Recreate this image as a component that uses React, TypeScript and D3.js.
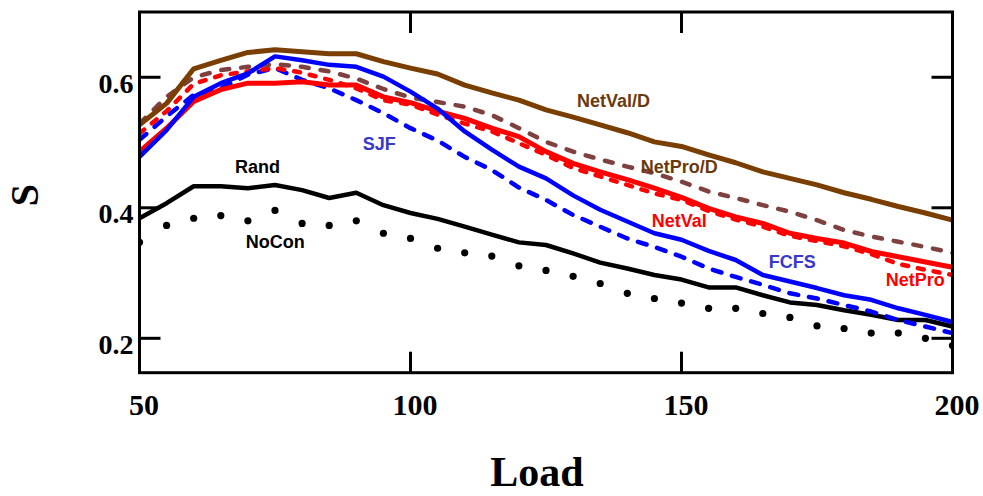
import React from "react";
import * as d3 from "d3";

const loads = d3.range(50, 201, 5);

const netValD = [0.527, 0.560, 0.613, 0.626, 0.638, 0.642, 0.639, 0.636, 0.636, 0.624, 0.614, 0.605, 0.588, 0.576, 0.565, 0.550, 0.539, 0.527, 0.515, 0.501, 0.494, 0.481, 0.469, 0.455, 0.445, 0.435, 0.423, 0.413, 0.402, 0.392, 0.381];
const netProD = [0.529, 0.570, 0.600, 0.611, 0.616, 0.620, 0.616, 0.609, 0.598, 0.582, 0.569, 0.562, 0.555, 0.542, 0.522, 0.501, 0.486, 0.474, 0.463, 0.453, 0.440, 0.425, 0.415, 0.404, 0.394, 0.381, 0.366, 0.356, 0.348, 0.340, 0.331];
const netVal = [0.486, 0.522, 0.563, 0.581, 0.591, 0.591, 0.593, 0.588, 0.588, 0.570, 0.561, 0.548, 0.537, 0.522, 0.509, 0.486, 0.468, 0.455, 0.443, 0.430, 0.416, 0.399, 0.386, 0.376, 0.361, 0.353, 0.346, 0.333, 0.325, 0.317, 0.309];
const netPro = [0.514, 0.548, 0.590, 0.603, 0.609, 0.614, 0.607, 0.596, 0.583, 0.565, 0.558, 0.543, 0.529, 0.517, 0.499, 0.481, 0.461, 0.448, 0.435, 0.422, 0.412, 0.395, 0.382, 0.371, 0.357, 0.349, 0.341, 0.329, 0.314, 0.305, 0.297];
const fcfs = [0.478, 0.519, 0.570, 0.591, 0.606, 0.632, 0.626, 0.619, 0.616, 0.601, 0.578, 0.552, 0.517, 0.489, 0.463, 0.445, 0.419, 0.397, 0.379, 0.361, 0.351, 0.334, 0.320, 0.297, 0.287, 0.277, 0.266, 0.259, 0.246, 0.236, 0.225];
const sjf = [0.504, 0.540, 0.573, 0.583, 0.604, 0.614, 0.596, 0.583, 0.565, 0.545, 0.522, 0.503, 0.478, 0.458, 0.431, 0.412, 0.389, 0.371, 0.353, 0.340, 0.325, 0.307, 0.294, 0.282, 0.269, 0.261, 0.251, 0.241, 0.228, 0.218, 0.208];
const rand = [0.384, 0.407, 0.433, 0.433, 0.430, 0.435, 0.427, 0.415, 0.423, 0.404, 0.392, 0.383, 0.371, 0.359, 0.347, 0.343, 0.330, 0.316, 0.307, 0.297, 0.290, 0.278, 0.278, 0.266, 0.255, 0.251, 0.243, 0.236, 0.228, 0.228, 0.218];
const noCon = [0.347, 0.373, 0.384, 0.388, 0.380, 0.396, 0.376, 0.373, 0.380, 0.361, 0.353, 0.338, 0.331, 0.326, 0.311, 0.304, 0.295, 0.284, 0.269, 0.261, 0.254, 0.246, 0.246, 0.238, 0.232, 0.219, 0.215, 0.208, 0.208, 0.200, 0.189];

const xTicks = [50, 100, 150, 200];
const yTicks = [0.2, 0.4, 0.6];
const innerXTicks = [100, 150];

type Series = { name: string; values: number[]; color: string; width: number; dash?: string; dotted?: boolean };

const series: Series[] = [
  { name: "NoCon", values: noCon, color: "#000000", width: 0, dotted: true },
  { name: "Rand", values: rand, color: "#000000", width: 4.5 },
  { name: "NetPro/D", values: netProD, color: "#7f4040", width: 4.5, dash: "8,12" },
  { name: "SJF", values: sjf, color: "#0000ff", width: 4.5, dash: "9,11" },
  { name: "NetPro", values: netPro, color: "#ff0000", width: 4.5, dash: "6,10" },
  { name: "NetVal", values: netVal, color: "#ff0000", width: 5 },
  { name: "FCFS", values: fcfs, color: "#0000ff", width: 4.5 },
  { name: "NetVal/D", values: netValD, color: "#7a3e00", width: 5 },
];

// label anchor positions in data units (load, S)
const labels = [
  { text: "NetVal/D", load: 130.7, val: 0.554, color: "#6b3a0c" },
  { text: "NetPro/D", load: 142.5, val: 0.4538, color: "#6b3a0c" },
  { text: "SJF", load: 91.2, val: 0.4886, color: "#3838cc" },
  { text: "Rand", load: 67.6, val: 0.4538, color: "#000000" },
  { text: "NoCon", load: 69.6, val: 0.338, color: "#000000" },
  { text: "NetVal", load: 144.5, val: 0.371, color: "#ff0000" },
  { text: "FCFS", load: 166.1, val: 0.3073, color: "#3838cc" },
  { text: "NetPro", load: 187.7, val: 0.2802, color: "#ff0000" },
];

export default function App() {
  const W = 983, H = 496;
  const left = 139.5, right = 952.5, top = 12, bottom = 372.7;
  const x = d3.scaleLinear().domain([50, 200]).range([left, right]);
  const y = d3.scaleLinear().domain([0.1473, 0.7]).range([bottom, top]);
  const line = (vals: number[]) =>
    d3.line<number>().x((_, i) => x(loads[i])).y((v) => y(v)).curve(d3.curveLinear)(vals) || "";
  const tickLen = 21;
  return (
    <svg width={W} height={H} style={{ position: "absolute", left: 0, top: 0, background: "#fff" }}>
      <defs>
        <clipPath id="plot">
          <rect x={left} y={top} width={right - left} height={bottom - top} />
        </clipPath>
      </defs>
      <g clipPath="url(#plot)">
        {series.map((s) =>
          s.dotted ? (
            <g key={s.name}>
              {s.values.map((v, i) => (
                <circle key={i} cx={x(loads[i])} cy={y(v)} r={3.6} fill={s.color} />
              ))}
            </g>
          ) : (
            <path
              key={s.name}
              d={line(s.values)}
              fill="none"
              stroke={s.color}
              strokeWidth={s.width}
              strokeDasharray={s.dash}
              strokeLinecap={s.dash ? "round" : "butt"}
              strokeLinejoin="round"
            />
          )
        )}
      </g>
      <rect x={left} y={top} width={right - left} height={bottom - top} fill="none" stroke="#000" strokeWidth={3} />
      {innerXTicks.map((t) => (
        <g key={t}>
          <line x1={x(t)} x2={x(t)} y1={top} y2={top + tickLen} stroke="#000" strokeWidth={3} />
          <line x1={x(t)} x2={x(t)} y1={bottom} y2={bottom - tickLen} stroke="#000" strokeWidth={3} />
        </g>
      ))}
      {yTicks.map((t) => (
        <g key={t}>
          <line x1={left} x2={left + tickLen} y1={y(t)} y2={y(t)} stroke="#000" strokeWidth={3} />
          <line x1={right} x2={right - tickLen} y1={y(t)} y2={y(t)} stroke="#000" strokeWidth={3} />
        </g>
      ))}
      {yTicks.map((t) => (
        <text key={t} x={left - 6} y={y(t) + 15.5} textAnchor="end" fontFamily="'Liberation Serif', serif" fontWeight="bold" fontSize={28}>
          {d3.format(".1f")(t)}
        </text>
      ))}
      {xTicks.map((t) => (
        <text key={t} x={x(t) + 4.5} y={415} textAnchor="middle" fontFamily="'Liberation Serif', serif" fontWeight="bold" fontSize={30}>
          {t}
        </text>
      ))}
      <text x={537} y={486} textAnchor="middle" fontFamily="'Liberation Serif', serif" fontWeight="bold" fontSize={42}>
        Load
      </text>
      <text transform="translate(38,195) rotate(-90)" textAnchor="middle" fontFamily="'Liberation Serif', serif" fontWeight="bold" fontSize={40}>
        S
      </text>
      {labels.map((l) => (
        <text key={l.text} x={x(l.load)} y={y(l.val)} fontFamily="'Liberation Sans', Arial, sans-serif" fontWeight="bold" fontSize={18} fill={l.color}>
          {l.text}
        </text>
      ))}
    </svg>
  );
}
